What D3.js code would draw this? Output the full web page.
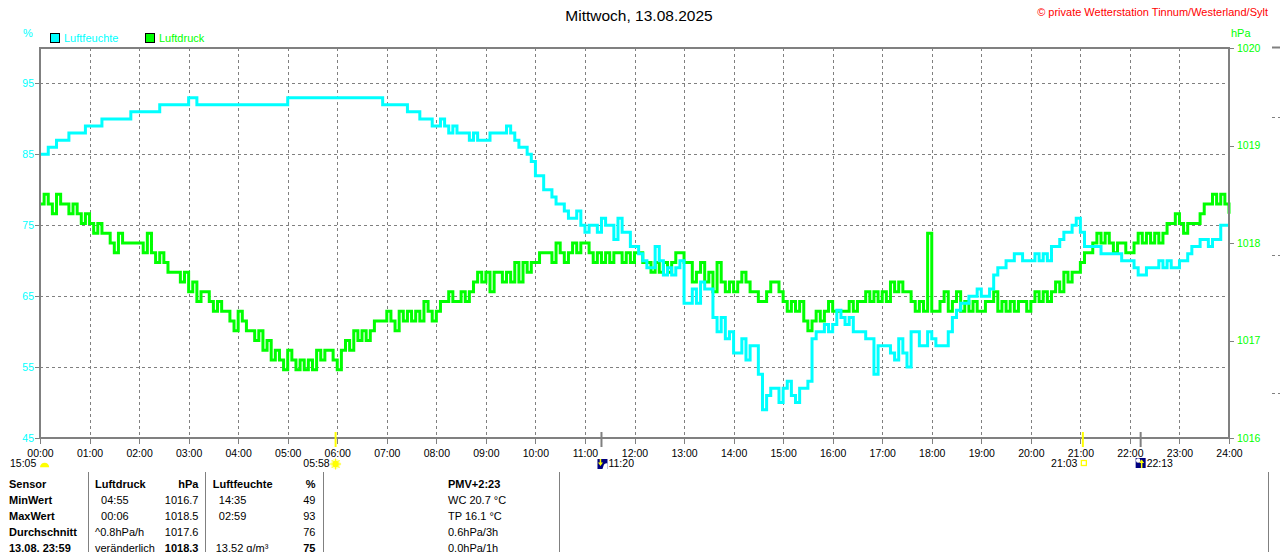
<!DOCTYPE html>
<html>
<head>
<meta charset="utf-8">
<script src="https://cdn.jsdelivr.net/npm/d3@7"></script>
<style>
    html, body { margin: 0; padding: 0; background: #fff; }
    svg { display: block; font-family: "Liberation Sans", Arial, sans-serif; }
    text { white-space: pre; }
</style>
</head>
<body>
<svg id="chart" width="1280" height="552"></svg>
<script>
// --- Werte, ein Wert je 5 Minuten, 00:00 .. 24:00 ---
var stepMinutes = 5;

var hourLabels = ['00:00','01:00','02:00','03:00','04:00','05:00','06:00','07:00','08:00',
    '09:00','10:00','11:00','12:00','13:00','14:00','15:00','16:00','17:00','18:00',
    '19:00','20:00','21:00','22:00','23:00','24:00'];
var humTicks = [45, 55, 65, 75, 85, 95];
var presTicks = [1016, 1017, 1018, 1019, 1020];

// Luftfeuchte in %
var humidity = [
    85,85,86,86,87,87,87,88,88,88,88,89,
    89,89,89,90,90,90,90,90,90,90,91,91,
    91,91,91,91,91,92,92,92,92,92,92,92,
    93,93,92,92,92,92,92,92,92,92,92,92,
    92,92,92,92,92,92,92,92,92,92,92,92,
    93,93,93,93,93,93,93,93,93,93,93,93,
    93,93,93,93,93,93,93,93,93,93,93,92,
    92,92,92,92,92,91,91,91,90,90,90,89,
    89,90,89,88,89,88,88,88,87,88,87,87,
    87,88,88,88,88,89,88,87,86,86,85,84,
    82,82,80,80,79,78,78,77,76,76,77,75,
    74,75,75,74,76,75,75,73,76,74,74,72,
    72,71,70,69,69,72,70,68,69,68,69,70,
    64,64,66,64,67,66,66,62,60,62,59,60,
    57,57,59,56,58,58,54,49,51,52,52,50,
    52,53,51,50,52,52,53,59,60,60,61,60,
    61,63,62,61,62,60,60,60,59,59,54,58,
    58,58,57,56,59,57,55,60,60,58,58,60,
    59,58,58,58,60,62,63,64,64,65,65,66,
    65,65,66,68,69,69,70,70,71,71,70,70,
    70,71,70,71,70,72,72,73,74,74,75,76,
    74,72,72,72,72,71,71,71,71,71,70,70,
    70,69,68,68,69,69,69,70,69,70,69,69,
    70,70,71,72,72,73,73,72,73,73,75,75,
    75
];

// Luftdruck in hPa
var pressure = [
    1018.4,1018.5,1018.4,1018.3,1018.5,1018.4,1018.4,1018.3,1018.4,1018.3,1018.2,1018.3,
    1018.2,1018.1,1018.2,1018.1,1018.1,1018.0,1017.9,1018.1,1018.0,1018.0,1018.0,1018.0,
    1018.0,1017.9,1018.1,1017.9,1017.8,1017.9,1017.8,1017.7,1017.7,1017.7,1017.6,1017.7,
    1017.5,1017.6,1017.4,1017.5,1017.5,1017.4,1017.3,1017.4,1017.3,1017.3,1017.2,1017.1,
    1017.3,1017.2,1017.1,1017.1,1017.0,1017.1,1016.9,1017.0,1016.8,1016.9,1016.8,1016.7,
    1016.9,1016.8,1016.7,1016.8,1016.7,1016.8,1016.7,1016.9,1016.8,1016.9,1016.9,1016.8,
    1016.7,1016.9,1017.0,1016.9,1017.1,1017.0,1017.1,1017.0,1017.1,1017.2,1017.2,1017.2,
    1017.3,1017.2,1017.1,1017.3,1017.2,1017.3,1017.2,1017.3,1017.2,1017.4,1017.3,1017.2,
    1017.3,1017.4,1017.4,1017.5,1017.4,1017.4,1017.5,1017.4,1017.5,1017.6,1017.7,1017.6,
    1017.7,1017.5,1017.7,1017.7,1017.6,1017.7,1017.6,1017.8,1017.6,1017.8,1017.7,1017.8,
    1017.8,1017.9,1017.9,1017.9,1017.8,1018.0,1017.9,1017.8,1017.9,1018.0,1017.9,1018.0,
    1018.0,1017.9,1017.8,1017.9,1017.8,1017.9,1017.8,1017.9,1017.9,1017.8,1017.9,1017.8,
    1017.9,1017.9,1017.8,1017.8,1017.7,1017.8,1017.7,1017.8,1017.7,1017.8,1017.9,1017.9,
    1017.8,1017.8,1017.6,1017.7,1017.8,1017.6,1017.7,1017.5,1017.8,1017.6,1017.5,1017.6,
    1017.5,1017.6,1017.7,1017.6,1017.5,1017.5,1017.4,1017.4,1017.5,1017.6,1017.6,1017.5,
    1017.4,1017.3,1017.4,1017.3,1017.4,1017.2,1017.1,1017.2,1017.3,1017.2,1017.3,1017.4,
    1017.3,1017.3,1017.3,1017.3,1017.4,1017.3,1017.4,1017.4,1017.5,1017.4,1017.5,1017.4,
    1017.5,1017.4,1017.6,1017.5,1017.6,1017.5,1017.5,1017.4,1017.3,1017.4,1017.3,1018.1,
    1017.3,1017.3,1017.4,1017.5,1017.3,1017.4,1017.5,1017.3,1017.4,1017.3,1017.4,1017.3,
    1017.3,1017.4,1017.4,1017.5,1017.3,1017.4,1017.3,1017.4,1017.3,1017.4,1017.4,1017.3,
    1017.4,1017.5,1017.4,1017.5,1017.4,1017.5,1017.6,1017.5,1017.7,1017.6,1017.7,1017.7,
    1017.8,1017.9,1017.9,1018.0,1018.1,1018.0,1018.1,1018.0,1017.9,1018.0,1018.0,1017.9,
    1017.9,1018.0,1018.1,1018.0,1018.1,1018.0,1018.1,1018.0,1018.1,1018.2,1018.2,1018.3,
    1018.2,1018.1,1018.2,1018.2,1018.2,1018.3,1018.4,1018.4,1018.5,1018.4,1018.5,1018.4,
    1018.3
];

// Sonne / Mond
var sunTimes = ['05:58', '21:03'];
var moonTimes = ['11:20', '22:13'];
var sunshineLabel = '15:05';

// Tabelle
var tableHeader = ['Sensor', 'Luftdruck', 'hPa', 'Luftfeuchte', '%'];
var rowLabels = ['MinWert', 'MaxWert', 'Durchschnitt', '13.08. 23:59'];
var presTimes = ['  04:55', '  00:06', '^0.8hPa/h', 'veränderlich'];
var presValues = ['1016.7', '1018.5', '1017.6', '1018.3'];
var humTimes = ['  14:35', '  02:59', '', ' 13.52 g/m³'];
var humValues = ['49', '93', '76', '75'];
var extraLines = ['PMV+2:23', 'WC 20.7 °C', 'TP 16.1 °C', '0.6hPa/3h', '0.0hPa/1h'];

// --- Zeichnen ---
(function() {
var CYAN = '#00ffff', GREEN = '#00ff00', GREY = '#808080', YELLOW = '#ffff00', NAVY = '#000080';
var svg = d3.select('#chart');

var plotL = 40, plotR = 1229, plotT = 48, plotB = 438;
var x = d3.scaleLinear().domain([0, 1440]).range([plotL, plotR]);
var yH = d3.scaleLinear().domain([45, 100]).range([plotB, plotT]);
var yP = d3.scaleLinear().domain([1016, 1020]).range([plotB, plotT]);

var hourMinutes = hourLabels.map(function(d) { return +d.slice(0, 2) * 60; });
function toMinutes(s) { return +s.slice(0, 2) * 60 + +s.slice(3, 5); }

// Kopf
svg.append('text')
    .attr('x', 639).attr('y', 21)
    .attr('text-anchor', 'middle')
    .style('font-size', '15.5px')
    .attr('fill', '#000')
    .text('Mittwoch, 13.08.2025');

svg.append('text')
    .attr('x', 1268).attr('y', 15.5)
    .attr('text-anchor', 'end')
    .style('font-size', '11px')
    .attr('fill', '#ff0000')
    .text('© private Wetterstation Tinnum/Westerland/Sylt');

svg.append('text').attr('x', 23).attr('y', 37)
    .style('font-size', '11px').attr('fill', CYAN).text('%');
svg.append('text').attr('x', 1231).attr('y', 37)
    .style('font-size', '11px').attr('fill', GREEN).text('hPa');

// Legende
var legend = [
    {label: 'Luftfeuchte', color: CYAN, x: 50},
    {label: 'Luftdruck', color: GREEN, x: 145}
];
var lg = svg.append('g').selectAll('g').data(legend).join('g');
lg.append('rect')
    .attr('x', function(d) { return d.x + 0.5; }).attr('y', 33.5)
    .attr('width', 9).attr('height', 9)
    .attr('fill', function(d) { return d.color; })
    .attr('stroke', '#000').attr('stroke-width', 1);
lg.append('text')
    .attr('x', function(d) { return d.x + 14; }).attr('y', 42)
    .style('font-size', '11px')
    .attr('fill', function(d) { return d.color; })
    .text(function(d) { return d.label; });

// Raster
var grid = svg.append('g')
    .attr('stroke', GREY).attr('stroke-width', 1)
    .attr('stroke-dasharray', '3,3').attr('shape-rendering', 'crispEdges');
grid.selectAll('line.v').data(hourMinutes.slice(1, -1)).join('line')
    .attr('class', 'v')
    .attr('x1', function(d) { return Math.round(x(d)) + 0.5; })
    .attr('x2', function(d) { return Math.round(x(d)) + 0.5; })
    .attr('y1', plotT).attr('y2', plotB);
grid.selectAll('line.h').data(humTicks.slice(1)).join('line')
    .attr('class', 'h')
    .attr('y1', function(d) { return Math.round(yH(d)) + 0.5; })
    .attr('y2', function(d) { return Math.round(yH(d)) + 0.5; })
    .attr('x1', plotL).attr('x2', plotR);

// Kurven
var presLine = d3.line()
    .x(function(d, i) { return x(i * stepMinutes); })
    .y(function(d) { return yP(d); })
    .curve(d3.curveStepAfter);
var humLine = d3.line()
    .x(function(d, i) { return x(i * stepMinutes); })
    .y(function(d) { return yH(d); })
    .curve(d3.curveStepAfter);

svg.append('path').datum(pressure)
    .attr('d', presLine)
    .attr('fill', 'none').attr('stroke', GREEN).attr('stroke-width', 3)
    .attr('stroke-linejoin', 'miter');
svg.append('path').datum(humidity)
    .attr('d', humLine)
    .attr('fill', 'none').attr('stroke', CYAN).attr('stroke-width', 3)
    .attr('stroke-linejoin', 'miter');

// Rahmen
svg.append('rect')
    .attr('x', plotL).attr('y', plotT)
    .attr('width', plotR - plotL).attr('height', plotB - plotT)
    .attr('fill', 'none').attr('stroke', GREY).attr('stroke-width', 2);

// Achsen
function styleAxis(g, color) {
    g.select('.domain').remove();
    g.selectAll('.tick line').attr('stroke', GREY).attr('shape-rendering', 'crispEdges');
    g.selectAll('.tick text').attr('fill', color).style('font-size', '10.5px')
        .style('font-family', '"Liberation Sans", Arial, sans-serif');
}

svg.append('g')
    .attr('transform', 'translate(' + plotL + ',0)')
    .call(d3.axisLeft(yH).tickValues(humTicks).tickSize(5).tickPadding(1))
    .call(styleAxis, CYAN);

svg.append('g')
    .attr('transform', 'translate(' + (plotR + 1) + ',0)')
    .call(d3.axisRight(yP).tickValues(presTicks).tickSize(4).tickPadding(3).tickFormat(d3.format('d')))
    .call(styleAxis, GREEN);

svg.append('g')
    .attr('transform', 'translate(0,' + (plotB + 1) + ')')
    .call(d3.axisBottom(x).tickValues(hourMinutes).tickSize(5).tickPadding(6)
        .tickFormat(function(d, i) { return hourLabels[i]; }))
    .call(styleAxis, '#000');

// Sonnen- und Mondzeiten
var marks = svg.append('g');
var sunX = sunTimes.map(function(t) { return x(toMinutes(t)); });
var moonX = moonTimes.map(function(t) { return x(toMinutes(t)); });

marks.selectAll('line.sun').data(sunX).join('line')
    .attr('class', 'sun')
    .attr('x1', function(d) { return d; }).attr('x2', function(d) { return d; })
    .attr('y1', 432).attr('y2', 447)
    .attr('stroke', YELLOW).attr('stroke-width', 2);
marks.selectAll('line.moon').data(moonX).join('line')
    .attr('class', 'moon')
    .attr('x1', function(d) { return d; }).attr('x2', function(d) { return d; })
    .attr('y1', 432).attr('y2', 447)
    .attr('stroke', GREY).attr('stroke-width', 2);

// Sonnenaufgang
var sx = sunX[0];
marks.append('circle').attr('cx', sx).attr('cy', 464).attr('r', 5)
    .attr('fill', '#ffffb0');
d3.range(8).forEach(function(k) {
    var a = k * Math.PI / 4;
    marks.append('line')
        .attr('x1', sx + Math.cos(a) * 3).attr('y1', 464 + Math.sin(a) * 3)
        .attr('x2', sx + Math.cos(a) * 5.5).attr('y2', 464 + Math.sin(a) * 5.5)
        .attr('stroke', YELLOW).attr('stroke-width', 1);
});
marks.append('circle').attr('cx', sx).attr('cy', 464).attr('r', 3.2).attr('fill', YELLOW);
marks.append('text').attr('x', sx - 6).attr('y', 467).attr('text-anchor', 'end')
    .style('font-size', '10.5px').text(sunTimes[0]);

// Sonnenuntergang
var ssx = sunX[1];
marks.append('rect').attr('x', ssx - 1.5).attr('y', 460.5).attr('width', 5).attr('height', 5)
    .attr('fill', 'none').attr('stroke', YELLOW).attr('stroke-width', 1.3);
marks.append('text').attr('x', ssx - 5.5).attr('y', 467).attr('text-anchor', 'end')
    .style('font-size', '10.5px').text(sunTimes[1]);

// Mond
var mx = moonX[0];
marks.append('rect').attr('x', mx - 4).attr('y', 459).attr('width', 10).attr('height', 10).attr('fill', NAVY);
marks.append('path').attr('d', 'M' + (mx + 2) + ',466 a3,3 0 0 1 4,-2.5 v5.5 h-5 z').attr('fill', '#fff');
marks.append('line').attr('x1', mx - 1).attr('x2', mx - 1).attr('y1', 459).attr('y2', 464)
    .attr('stroke', YELLOW).attr('stroke-width', 1.5);
marks.append('path').attr('d', 'M' + (mx - 3.5) + ',462.5 h5 l-2.5,3.5 z').attr('fill', YELLOW);
marks.append('text').attr('x', mx + 7).attr('y', 467)
    .style('font-size', '10.5px').text(moonTimes[0]);

var m2 = moonX[1];
marks.append('rect').attr('x', m2 - 5).attr('y', 458).attr('width', 10).attr('height', 10).attr('fill', NAVY);
marks.append('circle').attr('cx', m2 - 2.5).attr('cy', 460.5).attr('r', 2.2).attr('fill', '#fff');
marks.append('line').attr('x1', m2 + 1).attr('x2', m2 + 1).attr('y1', 462).attr('y2', 468)
    .attr('stroke', YELLOW).attr('stroke-width', 1.5);
marks.append('path').attr('d', 'M' + (m2 - 1.5) + ',463 h5 l-2.5,-3.5 z').attr('fill', YELLOW);
marks.append('text').attr('x', m2 + 6).attr('y', 467)
    .style('font-size', '10.5px').text(moonTimes[1]);

// Sonnenscheindauer
marks.append('text').attr('x', 10).attr('y', 467)
    .style('font-size', '10.5px').text(sunshineLabel);
marks.append('path').attr('d', 'M40,467.3 A4.6,4.6 0 0 1 49.2,467.3 Z').attr('fill', YELLOW);

// Tabelle
var tbl = svg.append('g').style('font-size', '11px').attr('fill', '#000');
var colLines = [88, 205, 323, 559, 1268];
tbl.selectAll('line').data(colLines).join('line')
    .attr('x1', function(d) { return d + 0.5; }).attr('x2', function(d) { return d + 0.5; })
    .attr('y1', 472).attr('y2', 552)
    .attr('stroke', GREY).attr('stroke-width', 1);

var rowY = [488.3, 504.3, 520.3, 536.3, 552.3];
var head = [
    {t: tableHeader[0], x: 9, a: 'start'},
    {t: tableHeader[1], x: 95, a: 'start'},
    {t: tableHeader[2], x: 198.5, a: 'end'},
    {t: tableHeader[3], x: 212.7, a: 'start'},
    {t: tableHeader[4], x: 315.5, a: 'end'}
];
tbl.selectAll('text.head').data(head).join('text')
    .attr('class', 'head')
    .attr('x', function(d) { return d.x; }).attr('y', rowY[0])
    .attr('text-anchor', function(d) { return d.a; })
    .style('font-weight', 'bold')
    .text(function(d) { return d.t; });

rowLabels.forEach(function(lab, i) {
    var y = rowY[i + 1];
    var last = i === rowLabels.length - 1;
    tbl.append('text').attr('x', 9).attr('y', y).style('font-weight', 'bold').text(lab);
    tbl.append('text').attr('x', 95).attr('y', y).text(presTimes[i]);
    tbl.append('text').attr('x', 198.5).attr('y', y).attr('text-anchor', 'end')
        .style('font-weight', last ? 'bold' : 'normal').text(presValues[i]);
    tbl.append('text').attr('x', 212.7).attr('y', y).text(humTimes[i]);
    tbl.append('text').attr('x', 315.5).attr('y', y).attr('text-anchor', 'end')
        .style('font-weight', last ? 'bold' : 'normal').text(humValues[i]);
});

extraLines.forEach(function(t, i) {
    tbl.append('text').attr('x', 448).attr('y', rowY[i])
        .style('font-weight', i === 0 ? 'bold' : 'normal').text(t);
});

// Rand rechts (angeschnittenes Nachbarbild)
var edge = svg.append('g').attr('stroke', GREY);
edge.append('line').attr('x1', 1272).attr('x2', 1280).attr('y1', 47.5).attr('y2', 47.5).attr('stroke-width', 2);
edge.selectAll('line.d').data([117, 255, 393]).join('line')
    .attr('class', 'd')
    .attr('x1', 1272).attr('x2', 1280).attr('y1', function(d) { return d + 0.5; }).attr('y2', function(d) { return d + 0.5; })
    .attr('stroke-width', 1).attr('stroke-dasharray', '3,3');
})();
</script>
</body>
</html>
